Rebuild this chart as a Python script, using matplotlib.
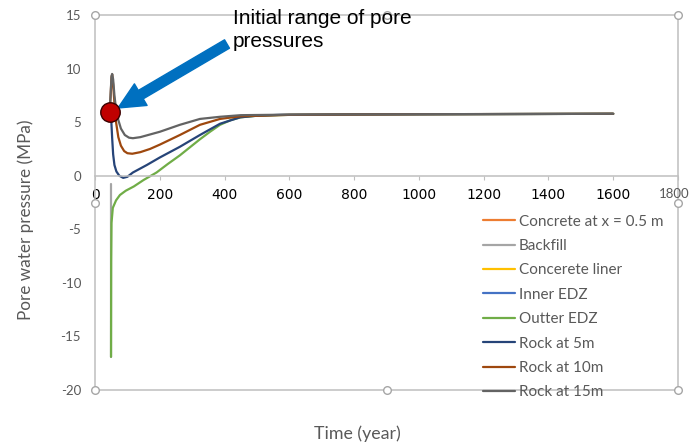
import matplotlib
matplotlib.use("Agg")
import matplotlib.pyplot as plt

# Simulated pore water pressure (MPa) versus time (year) at several locations
concrete_t, concrete_p = [], []
liner_t, liner_p = [], []
inner_t, inner_p = [], []

backfill_t = [48, 48]
backfill_p = [-0.8, -16.9]

outer_t = [49.5, 50, 51, 55, 65, 77, 95, 120, 150, 190, 225, 262, 295, 324,
           355, 386, 420, 450, 500, 600, 800, 1200, 1600]
outer_p = [-16.9, -8.0, -4.4, -3.0, -2.3, -1.8, -1.4, -1.0, -0.4, 0.3, 1.1,
           1.9, 2.7, 3.4, 4.1, 4.75, 5.2, 5.45, 5.6, 5.68, 5.72, 5.75, 5.78]

rock5_t = [45, 50, 53, 56, 60, 66, 75, 87, 100, 117, 160, 200, 262, 324, 386,
           448, 500, 570, 800, 1200, 1600]
rock5_p = [5.8, 5.3, 3.5, 2.0, 1.0, 0.4, 0.0, -0.2, -0.1, 0.3, 1.0, 1.7, 2.7,
           3.8, 4.85, 5.45, 5.6, 5.68, 5.72, 5.75, 5.78]

rock10_t = [45, 48, 51, 53, 56, 60, 65, 72, 80, 90, 100, 115, 140, 170, 200,
            262, 324, 386, 450, 600, 1000, 1600]
rock10_p = [5.9, 7.3, 9.2, 9.45, 8.5, 6.8, 5.0, 3.6, 2.8, 2.3, 2.1, 2.05, 2.2,
            2.5, 2.9, 3.8, 4.75, 5.3, 5.55, 5.68, 5.74, 5.78]

rock15_t = [45, 48, 51, 53, 56, 60, 65, 72, 80, 92, 105, 117, 140, 170, 200,
            262, 324, 386, 450, 600, 1000, 1600]
rock15_p = [5.9, 7.5, 9.3, 9.5, 9.0, 7.5, 6.2, 5.2, 4.4, 3.8, 3.55, 3.5, 3.6,
            3.85, 4.1, 4.75, 5.3, 5.5, 5.65, 5.7, 5.74, 5.78]

initial_t, initial_p = 46, 5.95

series = [
    ("Concrete at x = 0.5 m", concrete_t, concrete_p, "#ED7D31"),
    ("Backfill", backfill_t, backfill_p, "#A5A5A5"),
    ("Concerete liner", liner_t, liner_p, "#FFC000"),
    ("Inner EDZ", inner_t, inner_p, "#4472C4"),
    ("Outter EDZ", outer_t, outer_p, "#70AD47"),
    ("Rock at 5m", rock5_t, rock5_p, "#264478"),
    ("Rock at 10m", rock10_t, rock10_p, "#9E480E"),
    ("Rock at 15m", rock15_t, rock15_p, "#636363"),
]

x_ticks = [0, 200, 400, 600, 800, 1000, 1200, 1400, 1600, 1800]
y_ticks = [-20, -15, -10, -5, 0, 5, 10, 15]

W, H = 691, 446
fig = plt.figure(figsize=(W / 100, H / 100), dpi=100)
ax = fig.add_axes([95 / W, 56 / H, 583 / W, 375 / H])

text_grey = "#595959"
frame_grey = "#BFBFBF"
font = ["Lato", "DejaVu Sans"]
tick_size = 9.5

handles = []
for name, t, p, c in series:
    ln, = ax.plot(t, p, color=c, lw=1.6, label=name, solid_capstyle="round")
    handles.append(ln)

ax.set_xlim(x_ticks[0], x_ticks[-1])
ax.set_ylim(y_ticks[0], y_ticks[-1])
ax.set_xticks(x_ticks)
ax.set_yticks(y_ticks)
# the last x label sits at the figure edge; it is drawn separately further down
ax.set_xticklabels([str(v) for v in x_ticks[:-1]] + [""], family=font,
                   fontsize=tick_size, color=text_grey)
ax.set_yticklabels([str(v) for v in y_ticks], family=font, fontsize=tick_size,
                   color=text_grey)

# Axis lines: y axis at the left, x axis through zero, light frame around the plot
for s in ["left", "top", "right"]:
    ax.spines[s].set_color(frame_grey)
    ax.spines[s].set_linewidth(1.1)
ax.spines["bottom"].set_position(("data", 0))
ax.spines["bottom"].set_color(frame_grey)
ax.spines["bottom"].set_linewidth(1.1)
ax.axhline(y_ticks[0], color=frame_grey, lw=1.1, clip_on=False, zorder=0)
ax.tick_params(axis="x", direction="out", length=3, width=0.8, color=frame_grey, pad=6)
ax.tick_params(axis="y", direction="out", length=0, pad=10)

# Selection handles around the plot area
xm = (x_ticks[0] + x_ticks[-1]) / 2
ym = (y_ticks[0] + y_ticks[-1]) / 2
hx = [x_ticks[0], xm, x_ticks[-1], x_ticks[-1], x_ticks[-1], xm, x_ticks[0], x_ticks[0]]
hy = [y_ticks[-1], y_ticks[-1], y_ticks[-1], ym, y_ticks[0], y_ticks[0], y_ticks[0], ym]
ax.plot(hx, hy, ls="none", marker="o", ms=5.5, mfc="white", mec="#A6A6A6",
        mew=1.0, clip_on=False, zorder=5)

ax.set_ylabel("Pore water pressure (MPa)", family=font, fontsize=12.3, color=text_grey)
ax.yaxis.set_label_coords(-0.105, 0.453)
fig.text(357 / W, (H - 434) / H, "Time (year)", family=font, fontsize=12.8,
         color=text_grey, ha="center", va="center")

# Initial pressure marker and callout
ax.plot([initial_t], [initial_p], ls="none", marker="o", ms=14, mfc="#C00000",
        mec="#3A0000", mew=1.0, zorder=6, clip_on=False)
fig.text(233 / W, (H - 9) / H, "Initial range of pore\npressures",
         family=["Liberation Sans"], fontsize=15, color="black",
         ha="left", va="top", linespacing=1.28)
ax.annotate("", xy=(118, H - 108), xytext=(227, H - 44),
            xycoords="figure pixels", textcoords="figure pixels",
            arrowprops=dict(arrowstyle="simple,head_length=0.95,head_width=0.9,tail_width=0.35",
                            color="#0070C0", mutation_scale=20, shrinkA=0, shrinkB=0))

leg = fig.legend(handles=handles, loc="upper left",
                 bbox_to_anchor=(475 / W, (H - 207) / H), frameon=False,
                 prop={"family": font, "size": 11}, handlelength=2.15,
                 handletextpad=0.2, labelspacing=0.68, borderpad=0)
for txt in leg.get_texts():
    txt.set_color(text_grey)

# Last x label: same style and baseline as its neighbours, nudged inward
fig.canvas.draw()
ref_label = ax.get_xticklabels()[-2]
ref_box = ref_label.get_window_extent()
x_end = ax.transData.transform((x_ticks[-1], 0))[0]
fig.text((x_end - 3.5) / W, ref_box.y1 / H, str(x_ticks[-1]), ha="center", va="top",
         family=font, fontsize=tick_size, color=text_grey)

fig.savefig("out.png", dpi=100, facecolor="white")
